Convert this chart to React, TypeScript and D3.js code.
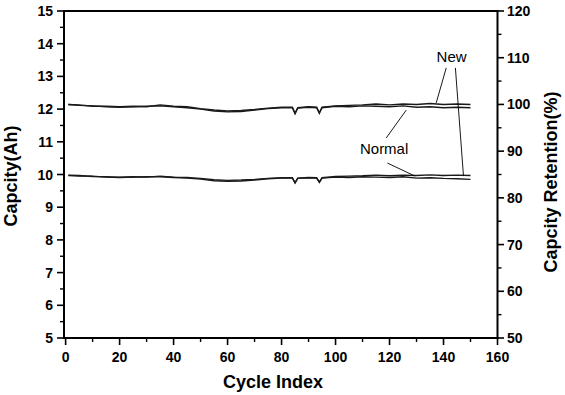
import React from "react";
import * as d3 from "d3";

const cycles = [1, 5, 10, 15, 20, 25, 30, 35, 40, 45, 50, 55, 60, 65, 70, 75, 80, 84, 85, 86, 90, 93, 94, 95, 100, 105, 110, 115, 120, 125, 130, 135, 140, 145, 150];

// capacity retention (%), right axis
const retentionNew = [100.0, 99.9, 99.6, 99.6, 99.5, 99.6, 99.5, 99.9, 99.6, 99.5, 99.1, 98.8, 98.6, 98.7, 98.9, 99.2, 99.4, 99.4, 98.0, 99.3, 99.5, 99.4, 98.1, 99.4, 99.7, 99.8, 99.9, 100.1, 99.9, 100.1, 100.0, 100.2, 100.0, 100.1, 100.0];
const retentionNormal = [100.0, 99.8, 99.7, 99.5, 99.4, 99.5, 99.6, 99.7, 99.5, 99.3, 99.0, 98.6, 98.4, 98.5, 98.8, 99.1, 99.3, 99.3, 98.1, 99.2, 99.4, 99.3, 98.2, 99.3, 99.6, 99.5, 99.7, 99.6, 99.5, 99.7, 99.4, 99.5, 99.3, 99.4, 99.3];

// capacity (Ah), left axis
const capacityNew = [9.98, 9.97, 9.94, 9.93, 9.92, 9.93, 9.92, 9.95, 9.92, 9.91, 9.88, 9.84, 9.82, 9.83, 9.85, 9.88, 9.9, 9.9, 9.74, 9.89, 9.91, 9.9, 9.76, 9.9, 9.94, 9.95, 9.96, 9.98, 9.96, 9.98, 9.97, 9.99, 9.97, 9.98, 9.97];
const capacityNormal = [9.97, 9.95, 9.95, 9.92, 9.91, 9.92, 9.93, 9.93, 9.91, 9.89, 9.86, 9.81, 9.79, 9.8, 9.83, 9.87, 9.89, 9.89, 9.75, 9.88, 9.9, 9.89, 9.77, 9.89, 9.92, 9.91, 9.93, 9.92, 9.91, 9.93, 9.89, 9.9, 9.88, 9.87, 9.85];

const xTicks = [0, 20, 40, 60, 80, 100, 120, 140, 160];
const yLeftTicks = [5, 6, 7, 8, 9, 10, 11, 12, 13, 14, 15];
const yRightTicks = [50, 60, 70, 80, 90, 100, 110, 120];

const font = "'Liberation Sans', Arial, sans-serif";

const x = d3.scaleLinear().domain([-0.6, 160]).range([64, 497.5]);
const yL = d3.scaleLinear().domain([5, 15]).range([338, 11]);
const yR = d3.scaleLinear().domain([50, 120]).range([338, 11]);

const App = () => {
  const lineL = d3
    .line<number>()
    .x((d, i) => x(cycles[i]))
    .y(d => yL(d));
  const lineR = d3
    .line<number>()
    .x((d, i) => x(cycles[i]))
    .y(d => yR(d));

  const xMinor = xTicks.slice(0, -1).map(d => d + 10);
  const yLMinor = yLeftTicks.slice(0, -1).map(d => d + 0.5);
  const yRMinor = yRightTicks.slice(0, -1).map(d => d + 5);

  // annotation leader lines, in data units of the left axis
  const leaders = [
    [141, 13.26, 137.3, 12.19],
    [144.4, 13.26, 147.4, 9.95],
    [118.8, 11.12, 126.2, 11.97],
    [119.2, 10.35, 129.5, 9.95],
  ];

  return (
    <svg width={565} height={395} style={{ position: "absolute", left: 0, top: 0, background: "#fff" }}>
      <g fill="none" stroke="#1a1a1a" strokeWidth={1.4}>
        <path d={lineR(retentionNormal) || ""} />
        <path d={lineR(retentionNew) || ""} />
        <path d={lineL(capacityNormal) || ""} />
        <path d={lineL(capacityNew) || ""} />
      </g>

      {leaders.map((l, i) => (
        <line key={i} x1={x(l[0])} y1={yL(l[1])} x2={x(l[2])} y2={yL(l[3])} stroke="#000" strokeWidth={0.9} />
      ))}
      <text x={x(143)} y={yL(13.44)} fontFamily={font} fontSize={15} textAnchor="middle">New</text>
      <text x={x(118)} y={yL(10.62)} fontFamily={font} fontSize={15} textAnchor="middle">Normal</text>

      {/* frame */}
      <g stroke="#000" strokeWidth={2} fill="none">
        <line x1={63} x2={498.5} y1={11} y2={11} />
        <line x1={63} x2={498.5} y1={338} y2={338} />
        <line x1={64} x2={64} y1={10} y2={339} />
        <line x1={497.5} x2={497.5} y1={10} y2={339} />
      </g>

      {/* bottom axis */}
      {xTicks.map(t => (
        <g key={t}>
          <line x1={x(t)} x2={x(t)} y1={338} y2={345} stroke="#000" strokeWidth={1.6} />
          <text x={x(t)} y={362} fontFamily={font} fontWeight="bold" fontSize={14} textAnchor="middle">{t}</text>
        </g>
      ))}
      {xMinor.map(t => (
        <line key={t} x1={x(t)} x2={x(t)} y1={338} y2={342} stroke="#000" strokeWidth={1.4} />
      ))}

      {/* left axis */}
      {yLeftTicks.map(t => (
        <g key={t}>
          <line x1={57} x2={64} y1={yL(t)} y2={yL(t)} stroke="#000" strokeWidth={1.6} />
          <text x={53} y={yL(t) + 5} fontFamily={font} fontWeight="bold" fontSize={14} textAnchor="end">{t}</text>
        </g>
      ))}
      {yLMinor.map(t => (
        <line key={t} x1={60} x2={64} y1={yL(t)} y2={yL(t)} stroke="#000" strokeWidth={1.4} />
      ))}

      {/* right axis */}
      {yRightTicks.map(t => (
        <g key={t}>
          <line x1={497.5} x2={504} y1={yR(t)} y2={yR(t)} stroke="#000" strokeWidth={1.6} />
          <text x={507} y={yR(t) + 5} fontFamily={font} fontWeight="bold" fontSize={14}>{t}</text>
        </g>
      ))}
      {yRMinor.map(t => (
        <line key={t} x1={497.5} x2={501.5} y1={yR(t)} y2={yR(t)} stroke="#000" strokeWidth={1.4} />
      ))}

      {/* axis titles */}
      <text x={273} y={388} fontFamily={font} fontWeight="bold" fontSize={18} textAnchor="middle">Cycle Index</text>
      <text transform="translate(17,176) rotate(-90)" fontFamily={font} fontWeight="bold" fontSize={18} textAnchor="middle">Capcity(Ah)</text>
      <text transform="translate(557,182) rotate(-90)" fontFamily={font} fontWeight="bold" fontSize={18} textAnchor="middle">Capcity Retention(%)</text>
    </svg>
  );
};

export default App;
